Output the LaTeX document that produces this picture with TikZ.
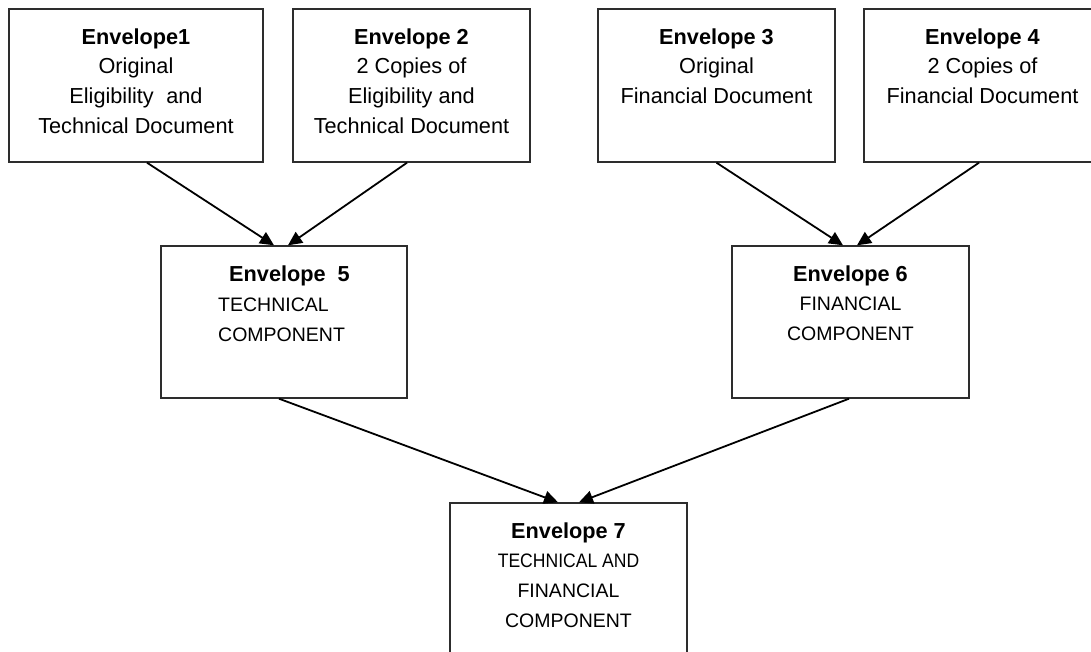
\documentclass[tikz,border=0pt]{standalone}
\usepackage{fontspec}
\setmainfont{Liberation Sans}
\usepackage{graphicx}
\usetikzlibrary{arrows.meta, positioning}

\definecolor{BoxLine}{RGB}{45, 45, 45}
\newcommand{\capline}[1]{{\fontsize{19.5}{29.6}\selectfont #1}}

\begin{document}
\begin{tikzpicture}[x=1pt, y=-1pt,
    envbox/.style={draw=BoxLine, line width=1.4pt, rectangle, inner sep=0pt,
        minimum width=237pt, minimum height=153pt},
    envtext/.style={anchor=north, align=center, inner sep=0pt,
        font=\fontsize{21.7}{29.6}\selectfont},
    feed/.style={-{Triangle[length=14pt, width=13pt]}, line width=1.8pt}]
    \useasboundingbox (0,0) rectangle (1091,652);

    % envelope boxes
    \node[envbox, minimum width=254pt] (env1) at (136,85.5) {};
    \node[envbox] (env2) at (411.5,85.5) {};
    \node[envbox] (env3) at (716.5,85.5) {};
    \node[envbox] (env4) at (982.5,85.5) {};
    \node[envbox, minimum width=246pt, minimum height=152pt] (env5) at (284,322) {};
    \node[envbox, minimum height=152pt] (env6) at (850.5,322) {};
    \node[envbox, minimum height=152pt] (env7) at (568.5,579) {};

    % texts
    \node[envtext, below=20pt of env1.north] (lbl1) {\textbf{Envelope1}\\ Original\\ Eligibility\hspace{0.3em} and\\ Technical Document};
    \node[envtext, below=20pt of env2.north] (lbl2) {\textbf{Envelope 2}\\ 2 Copies of\\ Eligibility and\\ Technical Document};
    \node[envtext, below=20pt of env3.north] (lbl3) {\textbf{Envelope 3}\\ Original\\ Financial Document};
    \node[envtext, below=20pt of env4.north] (lbl4) {\textbf{Envelope 4}\\ 2 Copies of\\ Financial Document};
    \node[envtext, align=left, anchor=north west] (lbl5) at (218,266) {\hspace*{11pt}\textbf{Envelope\ \ 5}\\ \capline{TECHNICAL}\\ \capline{COMPONENT}};
    \node[envtext, below=20pt of env6.north] (lbl6) {\textbf{Envelope 6}\\ \capline{FINANCIAL}\\ \capline{COMPONENT}};
    \node[envtext, below=20pt of env7.north] (lbl7) {\textbf{Envelope 7}\\ \capline{\scalebox{0.9}[1]{TECHNICAL AND}}\\ \capline{FINANCIAL}\\ \capline{COMPONENT}};

    % arrows
    \draw[feed] ([xshift=11pt]env1.south) -- ([xshift=-10pt]env5.north);
    \draw[feed] ([xshift=-4.5pt]env2.south) -- ([xshift=4pt]env5.north);
    \draw[feed] (env3.south) -- ([xshift=-7.5pt]env6.north);
    \draw[feed] ([xshift=-3.5pt]env4.south) -- ([xshift=6.5pt]env6.north);
    \draw[feed] ([xshift=-5pt]env5.south) -- ([xshift=-10.5pt]env7.north);
    \draw[feed] ([xshift=-1.5pt]env6.south) -- ([xshift=10.5pt]env7.north);
\end{tikzpicture}
\end{document}
